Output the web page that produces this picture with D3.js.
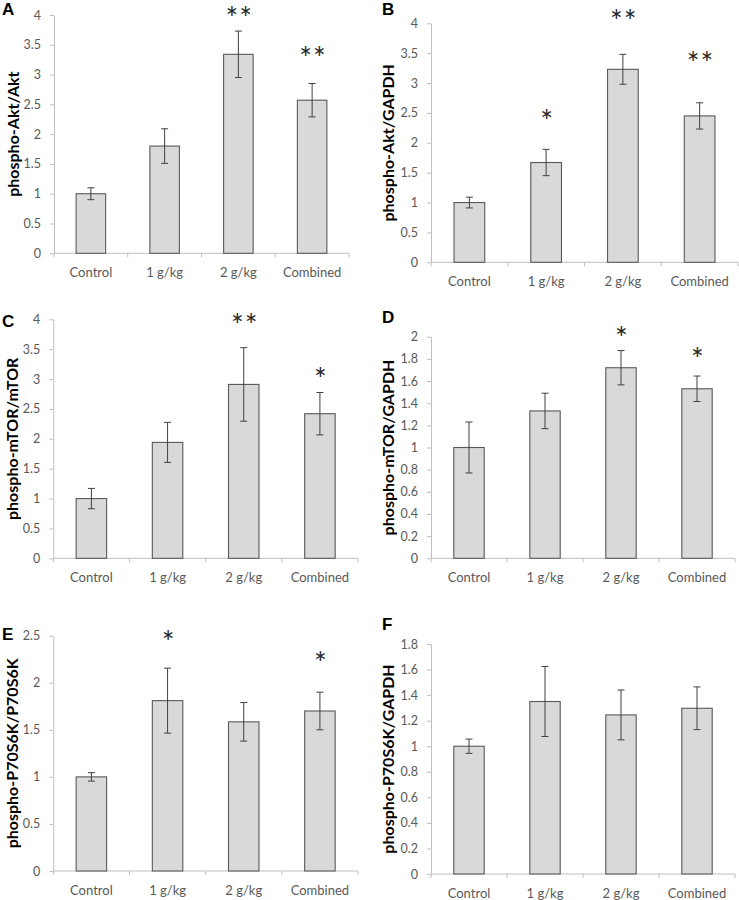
<!DOCTYPE html>
<html>
<head>
<meta charset="utf-8">
<script src="https://cdn.jsdelivr.net/npm/d3@7"></script>
<style>
  html, body { margin: 0; padding: 0; background: #fff; }
  svg { display: block; }
</style>
</head>
<body>
<svg id="chart" width="739" height="900"></svg>
<script>
// ---------- DATA ----------
const categories = ["Control", "1 g/kg", "2 g/kg", "Combined"];
const panelLetters = ["A", "B", "C", "D", "E", "F"];
const yTitles = ["phospho-Akt/Akt", "phospho-Akt/GAPDH", "phospho-mTOR/mTOR",
                 "phospho-mTOR/GAPDH", "phospho-P70S6K/P70S6K", "phospho-P70S6K/GAPDH"];

const meansA = [1.00, 1.80, 3.34, 2.57];
const errA   = [0.10, 0.29, 0.39, 0.28];
const starsA = ["", "", "**", "**"];
const starLevelA = [0, 0, 4.04, 3.37];

const meansB = [1.00, 1.67, 3.23, 2.45];
const errB   = [0.09, 0.22, 0.25, 0.22];
const starsB = ["", "*", "**", "**"];
const starLevelB = [0, 2.46, 4.13, 3.43];

const meansC = [1.00, 1.94, 2.91, 2.42];
const errC   = [0.17, 0.335, 0.615, 0.355];
const starsC = ["", "", "**", "*"];
const starLevelC = [0, 0, 4.00, 3.10];

const meansD = [1.00, 1.33, 1.72, 1.53];
const errD   = [0.23, 0.16, 0.155, 0.115];
const starsD = ["", "", "*", "*"];
const starLevelD = [0, 0, 2.04, 1.85];

const meansE = [1.00, 1.81, 1.585, 1.70];
const errE   = [0.045, 0.345, 0.205, 0.20];
const starsE = ["", "*", "", "*"];
const starLevelE = [0, 2.49, 0, 2.27];

const meansF = [1.00, 1.35, 1.245, 1.297];
const errF   = [0.056, 0.274, 0.195, 0.167];
const starsF = ["", "", "", ""];
const starLevelF = [0, 0, 0, 0];

const ticksA = [0, 0.5, 1, 1.5, 2, 2.5, 3, 3.5, 4];
const ticksB = [0, 0.5, 1, 1.5, 2, 2.5, 3, 3.5, 4];
const ticksC = [0, 0.5, 1, 1.5, 2, 2.5, 3, 3.5, 4];
const ticksD = [0, 0.2, 0.4, 0.6, 0.8, 1, 1.2, 1.4, 1.6, 1.8, 2];
const ticksE = [0, 0.5, 1, 1.5, 2, 2.5];
const ticksF = [0, 0.2, 0.4, 0.6, 0.8, 1, 1.2, 1.4, 1.6, 1.8];

// ---------- LAYOUT ----------
const panels = [
  { letter: panelLetters[0], title: yTitles[0], means: meansA, err: errA, stars: starsA, starLevel: starLevelA, ticks: ticksA,
    x0: 54, x1: 349, y0: 253.3, y1: 15, letterX: 2, letterY: 15, titleX: 13 },
  { letter: panelLetters[1], title: yTitles[1], means: meansB, err: errB, stars: starsB, starLevel: starLevelB, ticks: ticksB,
    x0: 431, x1: 738, y0: 262.3, y1: 23.3, letterX: 382, letterY: 15, titleX: 388 },
  { letter: panelLetters[2], title: yTitles[2], means: meansC, err: errC, stars: starsC, starLevel: starLevelC, ticks: ticksC,
    x0: 53.3, x1: 358, y0: 558.3, y1: 319.3, letterX: 2, letterY: 327, titleX: 12 },
  { letter: panelLetters[3], title: yTitles[3], means: meansD, err: errD, stars: starsD, starLevel: starLevelD, ticks: ticksD,
    x0: 431, x1: 735, y0: 558.3, y1: 336.7, letterX: 382, letterY: 323, titleX: 388 },
  { letter: panelLetters[4], title: yTitles[4], means: meansE, err: errE, stars: starsE, starLevel: starLevelE, ticks: ticksE,
    x0: 53.3, x1: 358, y0: 871, y1: 635.7, letterX: 2, letterY: 640, titleX: 12 },
  { letter: panelLetters[5], title: yTitles[5], means: meansF, err: errF, stars: starsF, starLevel: starLevelF, ticks: ticksF,
    x0: 431, x1: 735, y0: 874, y1: 644, letterX: 382, letterY: 630, titleX: 388 }
];

const svg = d3.select("#chart");
const axisColor = "#bfbfbf";
const labelColor = "#595959";
const fontMain = "Lato, 'Open Sans', sans-serif";

panels.forEach(p => {
  const g = svg.append("g");
  const yMax = p.ticks[p.ticks.length - 1];
  const y = d3.scaleLinear().domain([0, yMax]).range([p.y0, p.y1]);
  const x = d3.scaleBand().domain(categories).range([p.x0, p.x1]).paddingInner(0.6).paddingOuter(0.3);
  const xb = d3.scaleBand().domain(categories).range([p.x0, p.x1]).padding(0);

  // Y axis
  const yAxis = d3.axisLeft(y).tickValues(p.ticks).tickFormat(d3.format("~g")).tickSizeInner(4).tickSizeOuter(0).tickPadding(9);
  const ya = g.append("g").attr("transform", `translate(${p.x0},0)`).call(yAxis);
  ya.select(".domain").attr("stroke", axisColor);
  ya.selectAll(".tick line").attr("stroke", axisColor);
  ya.selectAll(".tick text").attr("fill", labelColor).style("font-family", fontMain).style("font-size", "12.5px");

  // X axis line with boundary ticks
  const xg = g.append("g");
  xg.append("line").attr("x1", p.x0).attr("x2", p.x1).attr("y1", p.y0).attr("y2", p.y0).attr("stroke", axisColor);
  const bounds = categories.map(c => xb(c)).concat([p.x1]);
  xg.selectAll("line.bt").data(bounds).enter().append("line").attr("class", "bt")
    .attr("x1", d => d).attr("x2", d => d).attr("y1", p.y0).attr("y2", p.y0 + 4).attr("stroke", axisColor);
  xg.selectAll("text").data(categories).enter().append("text")
    .attr("x", d => xb(d) + xb.bandwidth() / 2)
    .attr("y", p.y0 + 24)
    .attr("text-anchor", "middle")
    .attr("fill", labelColor)
    .style("font-family", fontMain).style("font-size", "13px")
    .text(d => d);

  // Bars
  g.selectAll("rect.bar").data(categories).enter().append("rect").attr("class", "bar")
    .attr("x", d => x(d))
    .attr("width", x.bandwidth())
    .attr("y", (d, i) => y(p.means[i]))
    .attr("height", (d, i) => y(0) - y(p.means[i]))
    .attr("fill", "#d9d9d9")
    .attr("stroke", "#595959")
    .attr("stroke-width", 1.1);

  // Error bars
  const eb = g.selectAll("g.err").data(categories).enter().append("g").attr("class", "err");
  const cx = d => x(d) + x.bandwidth() / 2;
  eb.append("line").attr("x1", cx).attr("x2", cx)
    .attr("y1", (d, i) => y(p.means[i] + p.err[i]))
    .attr("y2", (d, i) => y(p.means[i] - p.err[i]))
    .attr("stroke", "#404040").attr("stroke-width", 1);
  [1, -1].forEach(s => {
    eb.append("line")
      .attr("x1", d => cx(d) - 3.5).attr("x2", d => cx(d) + 3.5)
      .attr("y1", (d, i) => y(p.means[i] + s * p.err[i]))
      .attr("y2", (d, i) => y(p.means[i] + s * p.err[i]))
      .attr("stroke", "#404040").attr("stroke-width", 1);
  });

  // Significance stars
  const fs = 30;
  g.selectAll("text.star").data(categories).enter().append("text").attr("class", "star")
    .filter((d, i) => p.stars[i] !== "")
    .attr("x", d => cx(d) + 1)
    .attr("y", d => y(p.starLevel[categories.indexOf(d)]) + fs * 0.55)
    .attr("text-anchor", "middle")
    .attr("fill", "#262626")
    .style("font-family", fontMain).style("font-size", fs + "px")
    .style("letter-spacing", "1px")
    .text(d => p.stars[categories.indexOf(d)]);

  // Y title
  const ymid = (p.y0 + p.y1) / 2;
  g.append("text")
    .attr("transform", `translate(${p.titleX + 5.5},${ymid}) rotate(-90)`)
    .attr("text-anchor", "middle")
    .attr("fill", "#000")
    .style("font-family", fontMain).style("font-weight", "bold").style("font-size", "16px")
    .text(p.title);

  // Panel letter
  g.append("text")
    .attr("x", p.letterX).attr("y", p.letterY)
    .attr("fill", "#000")
    .style("font-family", "'Liberation Sans', Arial, sans-serif").style("font-weight", "bold").style("font-size", "17px")
    .text(p.letter);
});
</script>
</body>
</html>
